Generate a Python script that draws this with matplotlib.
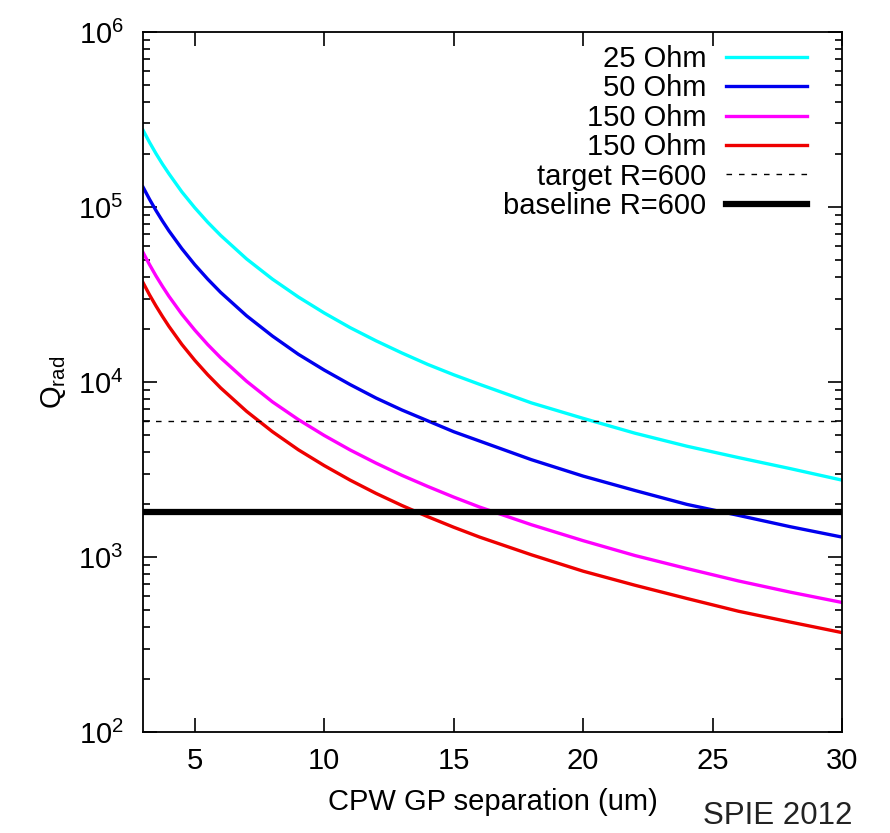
import numpy as np
import matplotlib
matplotlib.use("Agg")
import matplotlib.pyplot as plt

plt.rcParams['font.family'] = ['Liberation Sans', 'DejaVu Sans']
plt.rcParams['mathtext.fontset'] = 'custom'
plt.rcParams['mathtext.rm'] = 'Liberation Sans'
plt.rcParams['mathtext.it'] = 'Liberation Sans:italic'
plt.rcParams['mathtext.default'] = 'regular'

# CPW ground-plane separation (um)
gap = [3, 3.25, 3.5, 3.75, 4, 4.5, 5, 5.5, 6, 7, 8, 9, 10, 11, 12, 13, 14, 15,
       16, 18, 20, 22, 24, 26, 28, 30]

# Q_rad
q_25 = [275000, 234300, 202000, 176000, 155000, 122000, 99000, 81800, 68800,
        50500, 38700, 30600, 24800, 20450, 17200, 14650, 12600, 11000,
        9700, 7600, 6200, 5100, 4300, 3700, 3200, 2750]
q_50 = [130000, 110800, 95500, 83200, 73100, 57800, 46800, 38700, 32500,
        23900, 18300, 14400, 11700, 9670, 8100, 6920, 6000, 5200,
        4600, 3600, 2900, 2400, 2000, 1730, 1490, 1300]
q_150a = [55000, 46900, 40400, 35200, 30900, 24400, 19800, 16360, 13750,
          10100, 7700, 6100, 4950, 4090, 3440, 2930, 2530, 2200,
          1930, 1530, 1240, 1020, 860, 730, 630, 550]
q_150b = [37000, 31500, 27200, 23700, 20800, 16400, 13300, 11000, 9250,
          6800, 5200, 4100, 3330, 2750, 2310, 1970, 1700, 1480,
          1300, 1030, 830, 690, 580, 490, 425, 370]

target = 6000
baseline = 1800

fig = plt.figure(figsize=(8.9, 8.33), dpi=100)
ax = fig.add_axes([0.1607, 0.1212, 0.7854, 0.8404])

ax.plot(gap, q_25, color='#00ffff', lw=2.4, label='25 Ohm')
ax.plot(gap, q_50, color='#0000ee', lw=2.4, label='50 Ohm')
ax.plot(gap, q_150a, color='#ff00ff', lw=2.4, label='150 Ohm')
ax.plot(gap, q_150b, color='#ee0000', lw=2.4, label='150 Ohm')
ax.axhline(target, color='black', lw=1.0, ls=(0, (4, 5)), label='target R=600')
ax.axhline(baseline, color='black', lw=4.5, label='baseline R=600')

ax.set_yscale('log')
ax.set_xlim(3, 30)
ax.set_ylim(1e2, 1e6)
ax.set_xticks([5, 10, 15, 20, 25, 30])
ax.minorticks_off()
ax.set_yticks([1e2, 1e3, 1e4, 1e5, 1e6])
ax.yaxis.set_minor_locator(matplotlib.ticker.LogLocator(base=10, subs=np.arange(2, 10)))
ax.yaxis.set_minor_formatter(matplotlib.ticker.NullFormatter())

ax.tick_params(axis='both', which='major', direction='in', length=10, width=1.2,
               top=True, right=True, labelsize=21)
ax.tick_params(axis='x', which='major', pad=11)
ax.tick_params(axis='y', which='major', pad=14)
ax.tick_params(axis='y', which='minor', direction='in', length=5, width=1.2,
               left=True, right=True)
for s in ax.spines.values():
    s.set_linewidth(1.3)

ax.set_xlabel('CPW GP separation (um)', fontsize=21, labelpad=9)
ax.set_ylabel(r'Q$_{rad}$', fontsize=21, labelpad=7)

ax.legend(loc='upper right', bbox_to_anchor=(0.9585, 0.99), frameon=False,
          markerfirst=False, fontsize=21, handlelength=2.8, labelspacing=0.05,
          borderaxespad=0, borderpad=0.2, handletextpad=0.65)

fig.text(0.958, 0.002, 'SPIE 2012', ha='right', va='bottom', fontsize=22.5,
         color='#222222')

fig.savefig('out.png', dpi=100)
